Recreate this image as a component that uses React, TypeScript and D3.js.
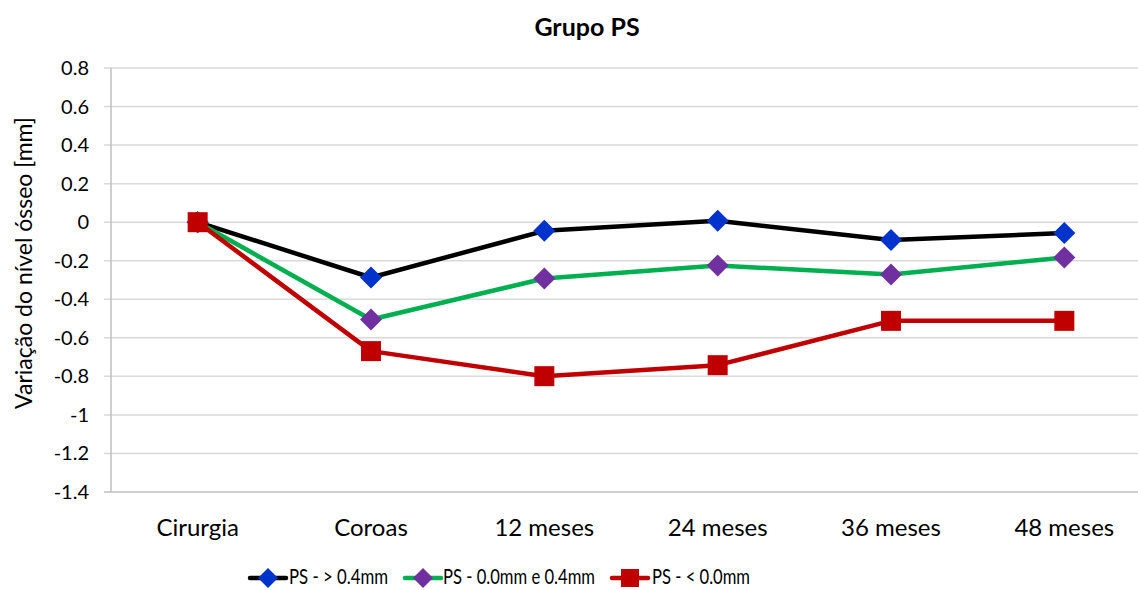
import React from "react";
import * as d3 from "d3";

const categories = ["Cirurgia", "Coroas", "12 meses", "24 meses", "36 meses", "48 meses"];
const seriesNames = ["PS - > 0.4mm", "PS - 0.0mm e 0.4mm", "PS - < 0.0mm"];
const seriesHigh = [0, -0.287, -0.045, 0.007, -0.093, -0.056];
const seriesMid = [0, -0.505, -0.292, -0.225, -0.271, -0.183];
const seriesLow = [0, -0.669, -0.799, -0.742, -0.512, -0.512];
const yTicks = [0.8, 0.6, 0.4, 0.2, 0, -0.2, -0.4, -0.6, -0.8, -1, -1.2, -1.4];

const W = 1138;
const H = 590;
const FONT = "Lato, 'Open Sans', sans-serif";

const series = [
  { name: seriesNames[0], values: seriesHigh, line: "#000000", marker: "#0033cc", shape: "diamond" },
  { name: seriesNames[1], values: seriesMid, line: "#00b050", marker: "#7030a0", shape: "diamond" },
  { name: seriesNames[2], values: seriesLow, line: "#c00000", marker: "#c00000", shape: "square" },
];

function Marker({ x, y, shape, color, size }: { x: number; y: number; shape: string; color: string; size: number }) {
  if (shape === "square") {
    return <rect x={x - size / 2} y={y - size / 2} width={size} height={size} fill={color} />;
  }
  const h = size / 2;
  return <path d={`M${x},${y - h}L${x + h},${y}L${x},${y + h}L${x - h},${y}Z`} fill={color} />;
}

export default function App() {
  const x0 = 111;
  const x1 = 1151;
  const yTop = 68;
  const yBot = 492;
  const x = d3.scaleBand<string>().domain(categories).range([x0, x1]).padding(0);
  const y = d3.scaleLinear().domain([-1.4, 0.8]).range([yBot, yTop]);
  const cx = (c: string) => (x(c) as number) + x.bandwidth() / 2;
  const line = d3
    .line<number>()
    .x((_, i) => cx(categories[i]))
    .y((d) => y(d));

  const fmt = (v: number) => (Math.abs(v) < 1e-9 ? "0" : String(Math.round(v * 10) / 10));

  const legendItems = [
    { lx: 250, tx: 289, tw: 99 },
    { lx: 405, tx: 443, tw: 152 },
    { lx: 612, tx: 652, tw: 98 },
  ];
  const legY = 578;

  return (
    <svg width={W} height={H} style={{ position: "absolute", left: 0, top: 0, background: "#fff" }} fontFamily={FONT}>
      <rect x={0} y={0} width={W} height={H} fill="#fff" />
      <text x={587} y={36} textAnchor="middle" fontSize={25} fontWeight="bold" fill="#000">
        Grupo PS
      </text>
      {yTicks.map((t) => (
        <g key={t}>
          <line x1={x0 - 7} x2={W} y1={y(t)} y2={y(t)} stroke={t === -1.4 ? "#bfbfbf" : "#d9d9d9"} strokeWidth={1.5} />
          <text x={89} y={y(t)} dy="0.35em" textAnchor="end" fontSize={20} fill="#000">
            {fmt(t)}
          </text>
        </g>
      ))}
      <line x1={x0} x2={x0} y1={yTop} y2={yBot} stroke="#bfbfbf" strokeWidth={1.5} />
      {categories.map((c) => (
        <text key={c} x={cx(c)} y={528} dy="0.35em" textAnchor="middle" fontSize={24} fill="#000">
          {c}
        </text>
      ))}
      <text
        transform={`translate(32,263) rotate(-90)`}
        textAnchor="middle"
        fontSize={23}
        fill="#000"
      >
        Variação do nível ósseo [mm]
      </text>
      {series.map((s) => (
        <g key={s.name}>
          <path d={line(s.values) || ""} fill="none" stroke={s.line} strokeWidth={4.5} strokeLinejoin="round" />
          {s.values.map((v, i) => (
            <Marker key={i} x={cx(categories[i])} y={y(v)} shape={s.shape} color={s.marker} size={s.shape === "square" ? 20 : 22} />
          ))}
        </g>
      ))}
      {series.map((s, i) => (
        <g key={s.name}>
          <line x1={legendItems[i].lx} x2={legendItems[i].lx + 36} y1={legY} y2={legY} stroke={s.line} strokeWidth={4.5} strokeLinecap="round" />
          <Marker x={legendItems[i].lx + 18} y={legY} shape={s.shape} color={s.marker} size={s.shape === "square" ? 18 : 20} />
          <text
            x={legendItems[i].tx}
            y={legY - 1}
            dy="0.35em"
            fontSize={21}
            fill="#000"
            textLength={legendItems[i].tw}
            lengthAdjust="spacingAndGlyphs"
          >
            {s.name}
          </text>
        </g>
      ))}
    </svg>
  );
}
